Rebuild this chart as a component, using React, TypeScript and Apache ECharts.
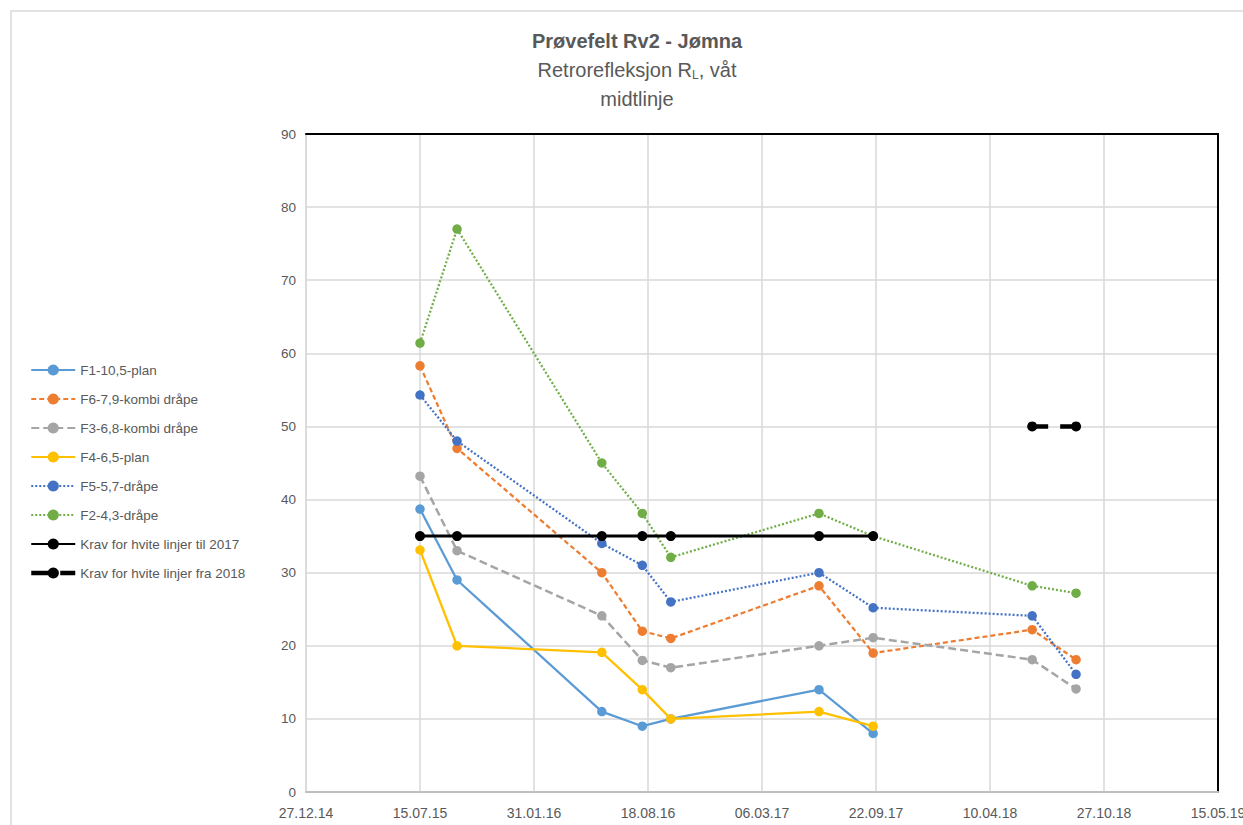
import React, { useEffect, useRef } from "react";
import * as echarts from "echarts";

const START = Date.UTC(2014, 11, 27);
const DAY = 86400000;

const measureDates = [
  "2015-07-15",
  "2015-09-18",
  "2016-05-29",
  "2016-08-08",
  "2016-09-27",
  "2017-06-14",
  "2017-09-17",
  "2018-06-23",
  "2018-09-08",
];

const seriesNames = [
  "F1-10,5-plan",
  "F6-7,9-kombi dråpe",
  "F3-6,8-kombi dråpe",
  "F4-6,5-plan",
  "F5-5,7-dråpe",
  "F2-4,3-dråpe",
  "Krav for hvite linjer til 2017",
  "Krav for hvite linjer fra 2018",
];

const f1 = [38.7, 29, 11, 9, 10, 14, 8, null, null];
const f6 = [58.3, 47, 30, 22, 21, 28.2, 19, 22.2, 18.1];
const f3 = [43.2, 33, 24.1, 18, 17, 20, 21.1, 18.1, 14.1];
const f4 = [33.1, 20, 19.1, 14, 10, 11, 9, null, null];
const f5 = [54.3, 48, 34, 31, 26, 30, 25.2, 24.1, 16.1];
const f2 = [61.4, 77, 45, 38.1, 32.1, 38.1, 35, 28.2, 27.2];
const krav2017 = [35, 35, 35, 35, 35, 35, 35, null, null];
const krav2018 = [null, null, null, null, null, null, null, 50, 50];

const xTickStart = 0;
const xTickEnd = 1600;
const xTickStep = 200;
const yMin = 0;
const yMax = 90;
const yStep = 10;

const dayOf = (s: string) => Math.round((Date.parse(s + "T00:00:00Z") - START) / DAY);
const fmtDay = (d: number) => {
  const dt = new Date(START + d * DAY);
  const dd = String(dt.getUTCDate()).padStart(2, "0");
  const mm = String(dt.getUTCMonth() + 1).padStart(2, "0");
  const yy = String(dt.getUTCFullYear() % 100).padStart(2, "0");
  return `${dd}.${mm}.${yy}`;
};

const toPoints = (vals: (number | null)[]) =>
  measureDates
    .map((d, i) => [dayOf(d), vals[i]] as [number, number | null])
    .filter((p) => p[1] !== null);

const FONT = "'Liberation Sans', Arial, sans-serif";
const TXT = "#595959";

export default function App() {
  const ref = useRef<HTMLDivElement>(null);
  useEffect(() => {
    if (!ref.current) return;
    const chart = echarts.init(ref.current, undefined, { renderer: "svg" });
    const styles: any[] = [
      { color: "#5b9bd5", type: "solid", width: 2.25, size: 9.5 },
      { color: "#ed7d31", type: [5, 3], width: 2.25, size: 9.5 },
      { color: "#a5a5a5", type: [8, 4], width: 2.5, size: 9.5 },
      { color: "#ffc000", type: "solid", width: 2.25, size: 9.5 },
      { color: "#4472c4", type: [2, 2], width: 2.25, size: 9.5 },
      { color: "#70ad47", type: [2, 2], width: 2.25, size: 9.5 },
      { color: "#000000", type: "solid", width: 3, size: 10 },
      { color: "#000000", type: [16, 12], width: 4.5, size: 10 },
    ];
    const allVals = [f1, f6, f3, f4, f5, f2, krav2017, krav2018];
    const series = allVals.map((vals, i) => ({
      name: seriesNames[i],
      type: "line",
      data: toPoints(vals),
      symbol: "circle",
      symbolSize: styles[i].size,
      lineStyle: { color: styles[i].color, type: styles[i].type, width: styles[i].width },
      itemStyle: { color: styles[i].color },
      z: 2 + i,
    }));
    chart.setOption({
      animation: false,
      backgroundColor: "#ffffff",
      textStyle: { fontFamily: FONT },
      grid: {
        left: 306,
        right: 25,
        top: 134,
        bottom: 33,
        containLabel: false,
        outerBoundsMode: "none",
      },
      graphic: [
        {
          type: "rect",
          shape: { x: 11, y: 11, width: 1300, height: 900 },
          style: { fill: "none", stroke: "#d9d9d9", lineWidth: 1.5 },
          silent: true,
        },
        {
          type: "text",
          x: 637,
          y: 41,
          style: {
            text: "Prøvefelt Rv2 - Jømna",
            font: `bold 20px ${FONT}`,
            fill: TXT,
            align: "center",
            verticalAlign: "middle",
          },
        },
        {
          type: "text",
          x: 637,
          y: 70,
          style: {
            text: "Retrorefleksjon R{s|L}, våt",
            font: `20px ${FONT}`,
            fill: TXT,
            align: "center",
            verticalAlign: "middle",
            rich: {
              s: { fontSize: 12, fill: TXT, fontFamily: FONT, padding: [10, 0, 0, 0] },
            },
          },
        },
        {
          type: "text",
          x: 637,
          y: 99,
          style: {
            text: "midtlinje",
            font: `20px ${FONT}`,
            fill: TXT,
            align: "center",
            verticalAlign: "middle",
          },
        },
      ],
      legend: {
        orient: "vertical",
        left: 29,
        top: 363,
        padding: 0,
        itemWidth: 44,
        itemHeight: 14,
        itemGap: 15,
        textStyle: { color: TXT, fontSize: 13.5, fontFamily: FONT },
        data: seriesNames.map((n, i) =>
          i === 7
            ? { name: n, lineStyle: { type: [17, 12], width: 4.5, color: "#000" } }
            : { name: n }
        ),
      },
      xAxis: [
        {
          type: "value",
          min: xTickStart,
          max: xTickEnd,
          interval: xTickStep,
          axisLine: { show: true, onZero: false, lineStyle: { color: "#bfbfbf", width: 2 } },
          axisTick: { show: false },
          axisLabel: {
            color: TXT,
            fontSize: 14,
            margin: 14,
            formatter: (v: number) => fmtDay(v),
          },
          splitLine: { show: true, lineStyle: { color: "#d9d9d9", width: 1.5 } },
        },
        {
          type: "value",
          position: "top",
          min: xTickStart,
          max: xTickEnd,
          interval: xTickStep,
          axisLine: { show: true, onZero: false, lineStyle: { color: "#000000", width: 2 } },
          axisTick: { show: false },
          axisLabel: { show: false },
          splitLine: { show: false },
        },
      ],
      yAxis: [
        {
          type: "value",
          min: yMin,
          max: yMax,
          interval: yStep,
          axisLine: { show: true, onZero: false, lineStyle: { color: "#d9d9d9", width: 1.5 } },
          axisTick: { show: false },
          axisLabel: { color: TXT, fontSize: 13.5, margin: 10 },
          splitLine: { show: true, lineStyle: { color: "#d9d9d9", width: 1.5 } },
        },
        {
          type: "value",
          position: "right",
          min: yMin,
          max: yMax,
          interval: yStep,
          axisLine: { show: true, onZero: false, lineStyle: { color: "#000000", width: 2 } },
          axisTick: { show: false },
          axisLabel: { show: false },
          splitLine: { show: false },
        },
      ],
      series,
    });
    return () => chart.dispose();
  }, []);
  return (
    <div
      ref={ref}
      style={{ position: "fixed", left: 0, top: 0, width: 1243, height: 825, background: "#fff" }}
    />
  );
}
